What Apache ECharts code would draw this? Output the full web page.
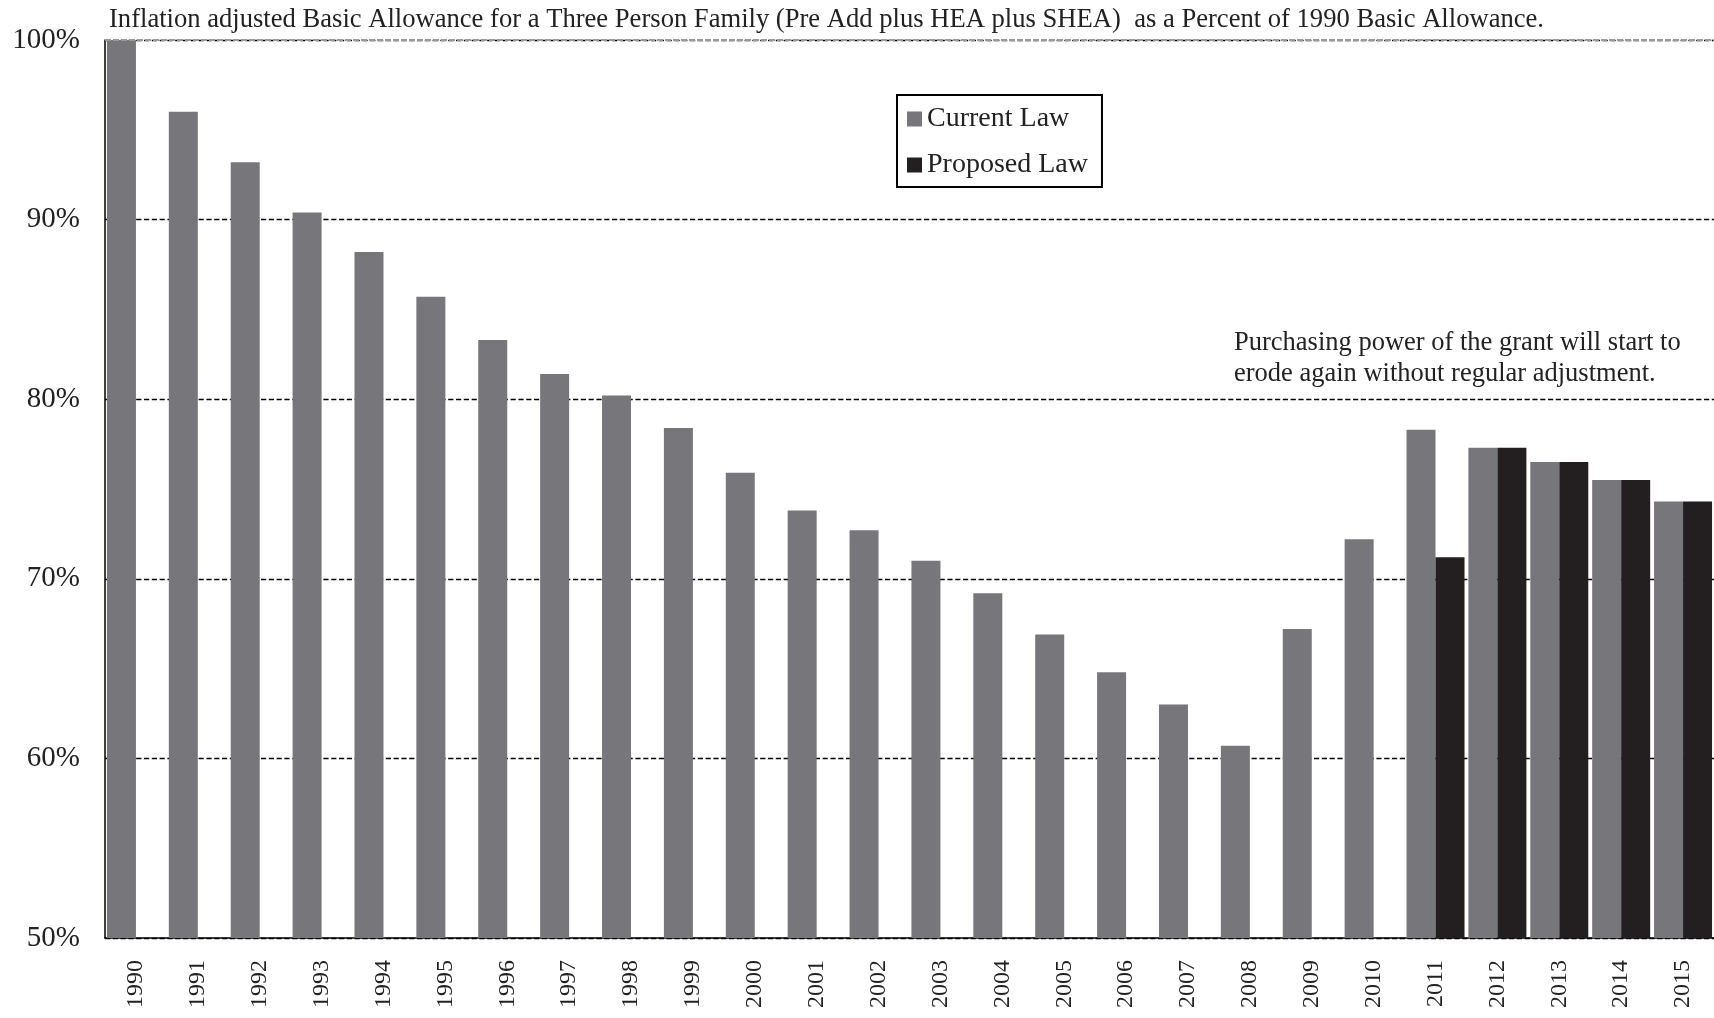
<!DOCTYPE html>
<html>
<head>
<meta charset="UTF-8">
<script src="https://cdn.jsdelivr.net/npm/echarts@6/dist/echarts.min.js"></script>
<style>* {margin:0;padding:0;} #chart {width:1714px;height:1018px;}</style>
</head>
<body>
<div id="chart"></div>
<script>
// 年份和两组数值（%）
var years = ['1990','1991','1992','1993','1994','1995','1996','1997','1998','1999','2000','2001','2002','2003','2004','2005','2006','2007','2008','2009','2010','2011','2012','2013','2014','2015'];
var currentLaw = [100, 96.0, 93.2, 90.4, 88.2, 85.7, 83.3, 81.4, 80.2, 78.4, 75.9, 73.8, 72.7, 71.0, 69.2, 66.9, 64.8, 63.0, 60.7, 67.2, 72.2, 78.3, 77.3, 76.5, 75.5, 74.3];
var proposedLaw = [null,null,null,null,null,null,null,null,null,null,null,null,null,null,null,null,null,null,null,null,null, 71.2, 77.3, 76.5, 75.5, 74.3];

var font = "'Liberation Serif', 'Times New Roman', serif";
var myChart = echarts.init(document.getElementById('chart'));
var option = {
    animation: false,
    textStyle: {fontFamily: font},
    title: {
        text: 'Inflation adjusted Basic Allowance for a Three Person Family (Pre Add plus HEA plus SHEA)  as a Percent of 1990 Basic Allowance.',
        left: 104, top: 2,
        textStyle: {fontFamily: font, fontSize: 26.6, fontWeight: 'normal', color: '#222'}
    },
    legend: {
        orient: 'vertical',
        left: 897, top: 95,
        padding: [10, 14, 8, 10],
        itemGap: 18,
        itemWidth: 15, itemHeight: 15,
        borderColor: '#000', borderWidth: 2,
        icon: 'rect',
        textStyle: {fontFamily: font, fontSize: 28, color: '#222'},
        data: ['Current Law', 'Proposed Law']
    },
    grid: {left: 105, right: -11, top: 40, bottom: 80},
    xAxis: {
        type: 'category',
        data: years,
        boundaryGap: true,
        axisLine: {lineStyle: {color: '#000', width: 1.5}},
        axisTick: {show: false},
        axisLabel: {rotate: 90, fontFamily: font, fontSize: 24, color: '#222', margin: 22}
    },
    yAxis: {
        type: 'value',
        min: 50, max: 100, interval: 10,
        axisLine: {show: true, lineStyle: {color: '#000', width: 1.5}},
        axisTick: {show: false},
        axisLabel: {formatter: '{value}%', fontFamily: font, fontSize: 29, color: '#222', margin: 25},
        splitLine: {lineStyle: {type: 'dashed', color: '#000', width: 1.3}}
    },
    graphic: [{
        type: 'text', left: 1234, top: 328,
        style: {text: 'Purchasing power of the grant will start to\nerode again without regular adjustment.', font: '26.5px ' + font, fill: '#222', lineHeight: 31}
    }, {
        type: 'line', shape: {x1: 105, y1: 40, x2: 1714, y2: 40},
        style: {stroke: '#999', lineWidth: 2, lineDash: [6, 2]}, z: 10
    }],
    series: [{
        name: 'Current Law', type: 'bar', data: currentLaw,
        barWidth: 29, barGap: '0%',
        itemStyle: {color: '#77777b'}
    }, {
        name: 'Proposed Law', type: 'bar', data: proposedLaw,
        barWidth: 29,
        itemStyle: {color: '#231f20'}
    }]
};
myChart.setOption(option);
</script>
</body>
</html>
